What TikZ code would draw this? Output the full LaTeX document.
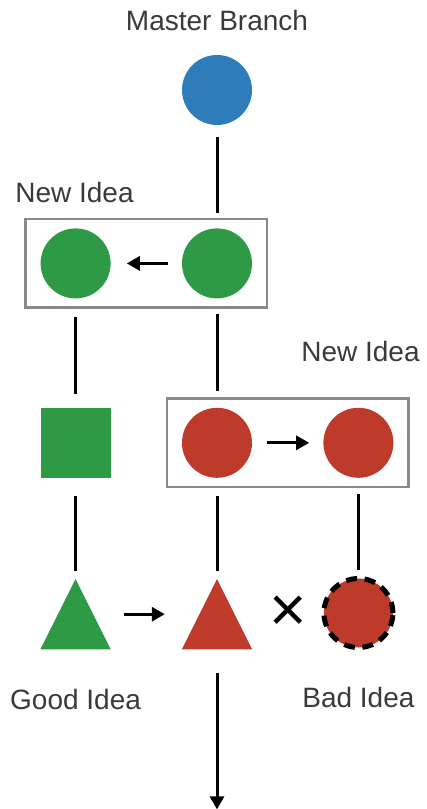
\documentclass[tikz,border=0pt]{standalone}
\usepackage{fontspec}
\setmainfont{Liberation Sans}
\usetikzlibrary{positioning,fit,calc,arrows.meta}
\definecolor{gitblue}{HTML}{2E7DBA}
\definecolor{gitgreen}{HTML}{2E9A45}
\definecolor{gitred}{HTML}{BE3A2A}
\definecolor{boxgray}{HTML}{8A8A8A}
\definecolor{textgray}{HTML}{3A3A3A}
\tikzset{
  commit/.style={circle, minimum size=70pt, inner sep=0pt},
  block/.style={minimum size=70pt, inner sep=0pt},
  ideabox/.style={draw=boxgray, line width=2.5pt, inner xsep=15pt, inner ysep=9pt},
  caption/.style={inner sep=0pt, text=textgray, font=\fontsize{28}{32}\selectfont},
  branch/.style={line width=3pt},
  merge/.style={line width=3pt, -{Triangle[length=13pt,width=14pt]}},
}

\begin{document}
\begin{tikzpicture}[x=1pt, y=-1pt]
  \useasboundingbox (0,0) rectangle (426,809);

  % master
  \node[commit, fill=gitblue] (master) at (217,90) {};
  \node[caption, above=24pt of master] (mastertxt) {Master Branch};

  % first idea
  \node[commit, fill=gitgreen, below=103pt of master] (gr) {};
  \node[commit, fill=gitgreen, left=71pt of gr] (gl) {};
  \node[ideabox, fit=(gl)(gr)] (box1) {};
  \node[caption, anchor=base west] (idea1txt) at ([shift={(-9,-15)}]box1.north west) {New Idea};

  % second idea
  \node[block, fill=gitgreen, below=109pt of gl] (sq) {};
  \node[commit, fill=gitred, below=109pt of gr] (rl) {};
  \node[commit, fill=gitred, right=71pt of rl] (rr) {};
  \node[ideabox, fit=(rl)(rr)] (box2) {};
  \node[caption, anchor=base east] (idea2txt) at ([shift={(10,-36)}]box2.north east) {New Idea};

  % results
  \node[block, below=101pt of sq] (gt) {};
  \node[block, below=101pt of rl] (rt) {};
  \node[commit, fill=gitred, draw=black, line width=5pt, minimum size=69pt,
    dash pattern=on 11pt off 7.5pt, below=98pt of rr] (bad) {};
  \fill[gitgreen] (gt.south west) -- (gt.south east) -- (gt.north) -- cycle;
  \fill[gitred] (rt.south west) -- (rt.south east) -- (rt.north) -- cycle;
  \node[inner sep=0pt, font=\fontsize{64}{64}\selectfont] (cross) at ($(rt)!0.5!(bad)$) {×};
  \node[caption, below=40pt of gt] (goodtxt) {Good Idea};
  \node[caption, below=37pt of bad] (badtxt) {Bad Idea};
  \coordinate[below=160pt of rt] (future);

  % connections
  \draw[branch, shorten <=12pt, shorten >=15pt] (master) -- (gr);
  \draw[branch, shorten <=18pt, shorten >=14pt] (gl) -- (sq);
  \draw[branch, shorten <=15pt, shorten >=17pt] (gr) -- (rl);
  \draw[branch, shorten <=18pt, shorten >=8pt] (sq) -- (gt);
  \draw[branch, shorten <=18pt, shorten >=8pt] (rl) -- (rt);
  \draw[branch, shorten <=16pt, shorten >=6pt] (rr) -- (bad);
  \draw[merge, shorten <=14pt, shorten >=16pt] (gr) -- (gl);
  \draw[merge, shorten <=15pt, shorten >=14pt] (rl) -- (rr);
  \draw[merge, shorten <=13pt, shorten >=17pt] (gt) -- (rt);
  \draw[merge, shorten <=24pt] (rt) -- (future);

\end{tikzpicture}
\end{document}
